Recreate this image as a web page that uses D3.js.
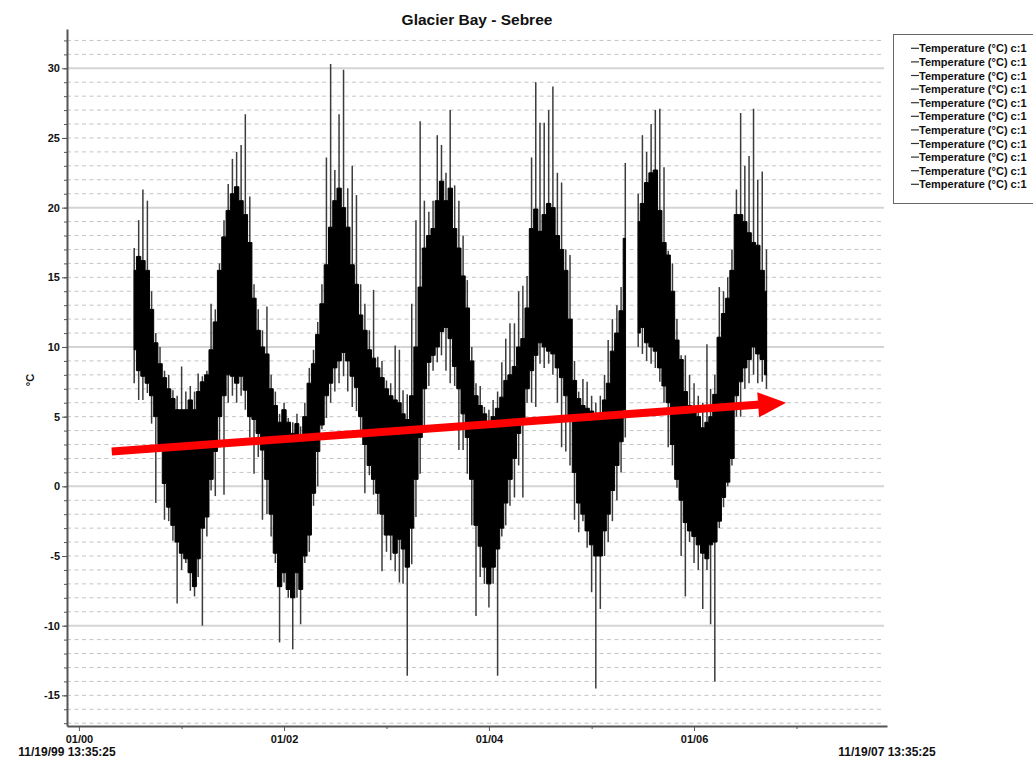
<!DOCTYPE html>
<html>
<head>
<meta charset="utf-8">
<script src="https://cdn.jsdelivr.net/npm/d3@7"></script>
<style>
body { margin: 0; background: #fff; }
svg { display: block; font-family: "Liberation Sans", Arial, sans-serif; }
</style>
</head>
<body>
<svg id="chart" width="1033" height="759"></svg>
<script>
// semi-monthly readings, Glacier Bay - Sebree logger
var dates = [
    "2000-07-16","2000-08-01","2000-08-16","2000-09-01","2000-09-16","2000-10-01","2000-10-16","2000-11-01","2000-11-16","2000-12-01","2000-12-16",
    "2001-01-01","2001-01-16","2001-02-01","2001-02-16","2001-03-01","2001-03-16","2001-04-01","2001-04-16","2001-05-01","2001-05-16","2001-06-01","2001-06-16",
    "2001-07-01","2001-07-16","2001-08-01","2001-08-16","2001-09-01","2001-09-16","2001-10-01","2001-10-16","2001-11-01","2001-11-16","2001-12-01","2001-12-16",
    "2002-01-01","2002-01-16","2002-02-01","2002-02-16","2002-03-01","2002-03-16","2002-04-01","2002-04-16","2002-05-01","2002-05-16","2002-06-01","2002-06-16",
    "2002-07-01","2002-07-16","2002-08-01","2002-08-16","2002-09-01","2002-09-16","2002-10-01","2002-10-16","2002-11-01","2002-11-16","2002-12-01","2002-12-16",
    "2003-01-01","2003-01-16","2003-02-01","2003-02-16","2003-03-01","2003-03-16","2003-04-01","2003-04-16","2003-05-01","2003-05-16","2003-06-01","2003-06-16",
    "2003-07-01","2003-07-16","2003-08-01","2003-08-16","2003-09-01","2003-09-16","2003-10-01","2003-10-16","2003-11-01","2003-11-16","2003-12-01","2003-12-16",
    "2004-01-01","2004-01-16","2004-02-01","2004-02-16","2004-03-01","2004-03-16","2004-04-01","2004-04-16","2004-05-01","2004-05-16","2004-06-01","2004-06-16",
    "2004-07-01","2004-07-16","2004-08-01","2004-08-16","2004-09-01","2004-09-16","2004-10-01","2004-10-16","2004-11-01","2004-11-16","2004-12-01","2004-12-16",
    "2005-01-01","2005-01-16","2005-02-01","2005-02-16","2005-03-01","2005-03-16","2005-04-01","2005-04-16","2005-05-01","2005-05-16","2005-06-01","2005-06-16",
    "2005-07-01","2005-07-16","2005-08-01","2005-08-16","2005-09-01","2005-09-16","2005-10-01","2005-10-16","2005-11-01","2005-11-16","2005-12-01","2005-12-16",
    "2006-01-01","2006-01-16","2006-02-01","2006-02-16","2006-03-01","2006-03-16","2006-04-01","2006-04-16","2006-05-01","2006-05-16","2006-06-01","2006-06-16",
    "2006-07-01","2006-07-16","2006-08-01","2006-08-16","2006-09-01","2006-09-16"
];

// dense band (most readings)
var coreHigh = [
    15.5, 16.5, 16.2, 15.5, 12.7, 10.3, 8.8, 7.8, 7.0, 6.3, 5.5,
    5.5, 5.5, 6.2, 5.5, 6.8, 7.5, 8.0, 9.8, 11.8, 15.5, 17.9, 19.8, 21.0, 21.5, 20.5, 19.5, 17.5, 13.5, 11.2, 10.0, 9.5, 7.0, 5.8, 4.6,
    5.5, 4.6, 3.8, 4.5, 3.5, 5.0, 7.4, 8.8, 10.9, 13.1, 15.9, 18.6, 20.5, 21.4, 20.0, 18.6, 15.9, 14.5, 12.3, 11.2, 9.8, 9.2, 8.5, 7.8,
    7.0, 6.5, 6.2, 6.0, 5.2, 4.8, 6.5, 10.0, 14.3, 17.1, 18.0, 18.5, 20.5, 21.9, 20.5, 21.4, 18.5, 17.1, 15.1, 12.8, 9.0, 6.5, 5.8, 5.2,
    4.6, 5.0, 5.6, 6.4, 7.6, 8.0, 8.6, 10.0, 10.6, 12.8, 18.5, 19.9, 18.3, 19.5, 20.3, 20.0, 18.0, 17.0, 15.5, 12.0, 7.6, 6.3, 5.8, 5.6,
    5.4, 5.0, 5.0, 6.2, 7.4, 9.7, 11.0, 12.6, 17.8, null, null, 19.0, 20.3, 21.8, 22.5, 22.7, 19.8, 17.5, 16.6, 14.0, 10.5, 9.1, 6.8, 5.8,
    5.4, 5.0, 4.2, 4.6, 5.0, 6.6, 10.7, 12.4, 13.5, 15.5, 19.5, 19.5, 19.0, 18.2, 17.5, 17.3, 15.5, 14.0
];
var coreLow = [
    9.8, 8.3, 7.9, 7.4, 6.5, 5.0, 3.0, 0.2, -1.5, -2.8, -4.0,
    -4.8, -5.2, -6.2, -7.2, -5.2, -3.0, -2.2, 0.5, 2.5, 5.0, 6.5, 8.0, 7.9, 7.4, 7.9, 6.9, 5.0, 4.8, 3.8, 2.6, 0.5, -2.0, -4.8, -7.2,
    -6.2, -7.4, -8.0, -6.2, -7.4, -5.0, -3.5, -0.5, 2.5, 4.4, 6.5, 7.4, 8.5, 9.0, 9.6, 9.0, 7.9, 7.1, 5.0, 3.0, 1.5, 0.5, -0.5, -2.0,
    -3.5, -3.5, -4.8, -3.8, -4.5, -5.8, -3.0, 0.5, 3.5, 7.0, 8.9, 9.4, 10.0, 11.1, 11.4, 10.6, 8.6, 7.0, 5.2, 3.5, 0.5, -2.8, -4.3, -5.8,
    -7.0, -5.8, -4.5, -3.0, -1.2, 0.5, 2.0, 3.8, 4.5, 7.0, 8.3, 9.4, 10.3, 10.0, 9.7, 9.5, 8.5, 7.8, 6.5, 4.8, 1.0, -1.2, -2.0, -3.2,
    -4.2, -5.0, -5.0, -3.2, -2.0, -0.3, 1.5, 3.2, 5.5, null, null, 11.0, 11.4, 10.3, 10.0, 9.7, 8.5, 7.2, 6.0, 3.0, 0.5, -1.0, -2.6, -3.2,
    -3.6, -4.2, -4.8, -5.2, -4.2, -4.0, -2.5, -0.8, 0.3, 2.0, 6.5, 7.5, 8.5, 9.1, 10.0, 9.5, 9.1, 8.0
];

// extreme readings in each half month
var peakHigh = [
    17.1, 19.1, 21.3, 20.5, 14.0, 11.0, 10.0, 8.3, 8.0, 6.9, 6.5,
    8.6, 6.8, 7.2, 6.8, 8.1, 7.9, 8.3, 13.1, 12.7, 16.0, 19.1, 21.7, 23.5, 24.0, 24.5, 26.7, 20.8, 14.5, 12.7, 11.2, 12.9, 8.0, 6.8, 5.2,
    6.0, 4.9, 4.6, 5.2, 4.3, 6.0, 8.5, 9.8, 11.8, 14.5, 23.6, 30.3, 22.7, 26.7, 29.9, 21.4, 23.0, 20.9, 14.5, 13.1, 11.2, 14.1, 9.3, 9.0,
    7.6, 7.4, 10.1, 9.8, 6.9, 6.6, 13.1, 19.1, 26.2, 20.5, 19.7, 20.5, 25.2, 24.5, 22.5, 27.0, 21.6, 20.5, 18.0, 14.8, 10.0, 7.4, 7.2, 5.7,
    5.5, 6.2, 6.8, 8.9, 10.6, 11.7, 11.7, 14.0, 14.4, 15.1, 23.6, 29.0, 26.1, 26.1, 27.0, 28.7, 22.5, 21.8, 17.0, 16.6, 9.0, 6.8, 7.7, 7.5,
    6.5, 6.0, 6.5, 8.0, 10.5, 12.0, 13.0, 14.3, 23.2, null, null, 21.0, 25.2, 24.0, 26.0, 27.0, 27.1, 22.9, 16.9, 16.0, 12.0, 9.4, 9.4, 8.0,
    7.4, 6.5, 6.0, 10.2, 7.0, 8.0, 14.3, 14.0, 15.0, 17.0, 21.3, 26.8, 23.0, 23.7, 27.1, 22.0, 22.6, 17.0
];
var peakLow = [
    7.4, 6.2, 6.2, 6.7, 4.5, -1.2, 2.6, -2.4, -2.5, -3.9, -8.4,
    -6.0, -5.5, -7.5, -7.9, -6.5, -10.0, -3.6, -0.3, -0.7, 2.8, -0.6, 6.0, 6.5, 6.0, 6.5, 5.5, 3.5, 0.9, 2.1, -2.4, -2.0, -3.6, -5.5, -11.2,
    -6.9, -8.0, -11.7, -8.0, -9.9, -5.5, -4.7, -1.4, 0.0, 4.1, 4.9, 6.0, 6.8, 7.4, 7.9, 6.8, 5.7, 5.4, 3.5, -0.5, 0.8, -0.6, -2.0, -6.1,
    -4.7, -5.3, -6.1, -6.9, -7.0, -13.6, -5.6, -2.2, 0.9, 4.3, 7.2, 8.3, 8.9, 9.4, 8.3, 7.4, 7.2, 2.6, 2.6, 0.9, -2.8, -9.3, -6.5, -7.0,
    -8.7, -7.0, -13.6, -3.6, -2.8, -1.4, -0.8, 1.5, -0.8, 6.0, 6.0, 5.7, 8.8, 8.5, 8.8, 8.0, 6.0, 2.8, 2.5, 1.5, -2.4, -3.3, -2.5, -4.4,
    -7.6, -14.5, -8.8, -5.0, -4.0, -2.5, -1.0, 1.0, 3.5, null, null, 10.0, 9.5, 9.0, 8.8, 8.5, 7.5, 6.0, 2.8, 1.5, -0.1, -5.0, -7.9, -4.0,
    -5.5, -6.0, -8.8, -6.0, -9.9, -14.0, -3.0, -1.5, 0.0, 1.5, 5.0, 5.0, 7.0, 7.4, 8.0, 7.4, 7.5, 7.0
];

// red trend arrow drawn over the data
var trendDates = ["2000-04-27", "2006-11-25"];
var trendValues = [2.5, 6.0];

var xStart = "1999-11-19 13:35:25";
var xEnd = "2007-11-19 13:35:25";
var majorYears = ["2000-01-01", "2002-01-01", "2004-01-01", "2006-01-01"];
var minorYears = ["2001-01-01", "2003-01-01", "2005-01-01", "2007-01-01"];
var yLabels = [-15, -10, -5, 0, 5, 10, 15, 20, 25, 30];

var title = "Glacier Bay - Sebree";
var yTitle = "°C";
var legendLabels = [
    "Temperature (°C) c:1", "Temperature (°C) c:1", "Temperature (°C) c:1", "Temperature (°C) c:1",
    "Temperature (°C) c:1", "Temperature (°C) c:1", "Temperature (°C) c:1", "Temperature (°C) c:1",
    "Temperature (°C) c:1", "Temperature (°C) c:1", "Temperature (°C) c:1"
];

function drawChart() {
    var svg = d3.select("#chart");
    var parseDay = d3.timeParse("%Y-%m-%d");
    var parseFull = d3.timeParse("%Y-%m-%d %H:%M:%S");
    var fmtEnd = d3.timeFormat("%m/%d/%y %H:%M:%S");

    var left = 67, right = 887, top = 29, bottom = 726;

    var x = d3.scaleTime()
        .domain([parseFull(xStart), parseFull(xEnd)])
        .range([left, right]);
    var y = d3.scaleLinear()
        .domain([-17.2, 32.82])
        .range([bottom, top]);

    var rows = dates.map(function(d, i) {
        return {t: parseDay(d), hi: coreHigh[i], lo: coreLow[i], pHi: peakHigh[i], pLo: peakLow[i]};
    });

    // grid
    var grid = svg.append("g");
    d3.range(-17, 33).forEach(function(v) {
        var major = v % 10 === 0;
        grid.append("line")
            .attr("x1", left).attr("x2", right - 3)
            .attr("y1", y(v)).attr("y2", y(v))
            .attr("stroke", major ? "#d4d4d4" : "#c4c4c4")
            .attr("stroke-width", major ? 2 : 1)
            .attr("stroke-dasharray", major ? null : "4,3.5");
    });

    // spikes (extremes)
    svg.append("g").selectAll("line")
        .data(rows.filter(function(r) { return r.pHi !== null; }))
        .join("line")
        .attr("x1", function(r) { return x(r.t); })
        .attr("x2", function(r) { return x(r.t); })
        .attr("y1", function(r) { return y(r.pLo); })
        .attr("y2", function(r) { return y(r.pHi); })
        .attr("stroke", "#3c3c3c")
        .attr("stroke-width", 1.5);

    // dense band
    var band = d3.area()
        .defined(function(r) { return r.hi !== null; })
        .curve(d3.curveStep)
        .x(function(r) { return x(r.t); })
        .y0(function(r) { return y(r.lo); })
        .y1(function(r) { return y(r.hi); });
    svg.append("path")
        .datum(rows)
        .attr("d", band)
        .attr("fill", "#000")
        .attr("stroke", "#000")
        .attr("stroke-width", 1);

    // y axis
    var yMinor = svg.append("g")
        .attr("transform", "translate(" + left + ",0)")
        .call(d3.axisLeft(y).tickValues(d3.range(-17, 33)).tickSize(3).tickFormat(""));
    yMinor.select(".domain").remove();
    yMinor.selectAll("line").attr("stroke", "#555");

    var yAxis = svg.append("g")
        .attr("transform", "translate(" + left + ",0)")
        .call(d3.axisLeft(y).tickValues(yLabels).tickSize(5).tickSizeOuter(0).tickPadding(2)
            .tickFormat(function(d) { return String(d); }));
    yAxis.select(".domain").attr("stroke", "#555").attr("stroke-width", 2);
    yAxis.selectAll("line").attr("stroke", "#555");
    yAxis.selectAll("text")
        .attr("font-size", 11).attr("font-weight", "bold").attr("fill", "#111")
        .attr("font-family", "Liberation Sans, Arial, sans-serif");

    // x axis
    var xMinor = svg.append("g")
        .attr("transform", "translate(0," + bottom + ")")
        .call(d3.axisBottom(x).tickValues(minorYears.map(parseDay)).tickSize(3).tickFormat(""));
    xMinor.select(".domain").remove();
    xMinor.selectAll("line").attr("stroke", "#555");

    var xAxis = svg.append("g")
        .attr("transform", "translate(0," + bottom + ")")
        .call(d3.axisBottom(x).tickValues(majorYears.map(parseDay)).tickSize(5).tickSizeOuter(0).tickPadding(4)
            .tickFormat(d3.timeFormat("%m/%y")));
    xAxis.select(".domain").attr("stroke", "#555").attr("stroke-width", 2);
    xAxis.selectAll("line").attr("stroke", "#555");
    xAxis.selectAll("text")
        .attr("font-size", 11).attr("font-weight", "bold").attr("fill", "#111")
        .attr("font-family", "Liberation Sans, Arial, sans-serif");

    // range end labels
    svg.selectAll(".endLabel")
        .data(x.domain())
        .join("text")
        .attr("class", "endLabel")
        .attr("x", function(d) { return x(d); })
        .attr("y", 756)
        .attr("text-anchor", "middle")
        .attr("font-size", 12).attr("font-weight", "bold").attr("fill", "#111")
        .text(function(d) { return fmtEnd(d); });

    // titles
    svg.append("text")
        .attr("x", 477).attr("y", 25)
        .attr("text-anchor", "middle")
        .attr("font-size", 15.5).attr("font-weight", "bold").attr("fill", "#111")
        .text(title);
    svg.append("text")
        .attr("transform", "translate(34,380) rotate(-90)")
        .attr("text-anchor", "middle")
        .attr("font-size", 11).attr("font-weight", "bold").attr("fill", "#111")
        .text(yTitle);

    // trend arrow
    var p0 = [x(parseDay(trendDates[0])), y(trendValues[0])];
    var p1 = [x(parseDay(trendDates[1])), y(trendValues[1])];
    var ang = Math.atan2(p1[1] - p0[1], p1[0] - p0[0]);
    var headLen = 28, headW = 12.5;
    var base = [p1[0] - headLen * Math.cos(ang), p1[1] - headLen * Math.sin(ang)];
    svg.append("line")
        .attr("x1", p0[0]).attr("y1", p0[1])
        .attr("x2", base[0] + 2 * Math.cos(ang)).attr("y2", base[1] + 2 * Math.sin(ang))
        .attr("stroke", "#ff0000")
        .attr("stroke-width", 8);
    svg.append("polygon")
        .attr("points", [
            p1,
            [base[0] + headW * Math.sin(ang), base[1] - headW * Math.cos(ang)],
            [base[0] - headW * Math.sin(ang), base[1] + headW * Math.cos(ang)]
        ].map(function(p) { return p.join(","); }).join(" "))
        .attr("fill", "#ff0000");

    // legend
    var lg = svg.append("g").attr("transform", "translate(893,34)");
    lg.append("rect")
        .attr("x", 0.5).attr("y", 0.5)
        .attr("width", 160).attr("height", 169)
        .attr("fill", "#fff")
        .attr("stroke", "#666");
    var items = lg.selectAll("g.item")
        .data(legendLabels)
        .join("g")
        .attr("class", "item")
        .attr("transform", function(d, i) { return "translate(0," + (14.3 + i * 13.6) + ")"; });
    items.append("line")
        .attr("x1", 18).attr("x2", 26)
        .attr("y1", 0).attr("y2", 0)
        .attr("stroke", "#333").attr("stroke-width", 1.2);
    items.append("text")
        .attr("x", 26).attr("y", 4)
        .attr("font-size", 11).attr("font-weight", "bold").attr("fill", "#111")
        .text(function(d) { return d; });

    console.log("chart drawn", rows.length);
}

drawChart();
</script>
</body>
</html>
